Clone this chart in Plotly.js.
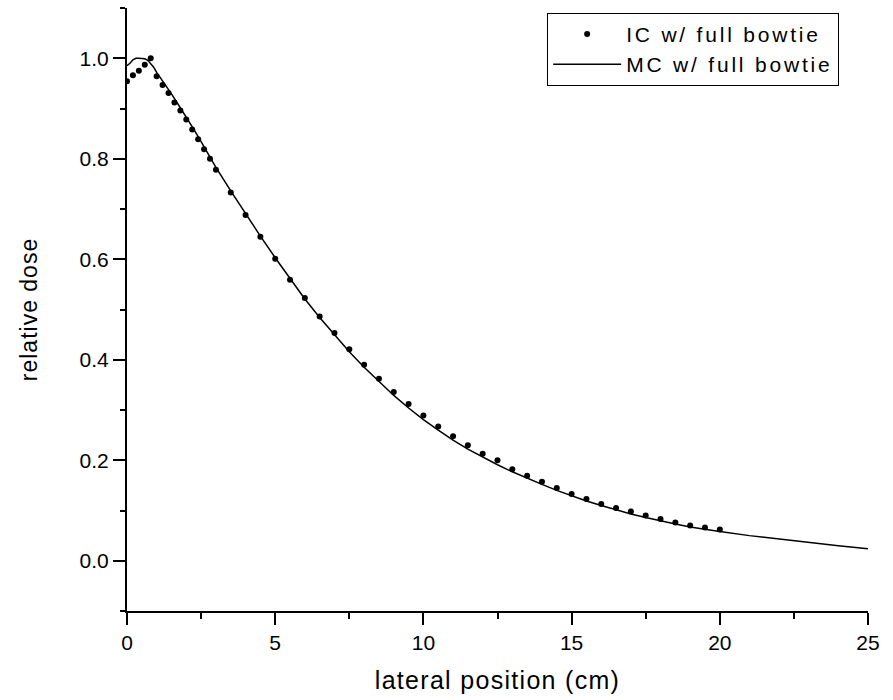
<!DOCTYPE html>
<html>
<head>
<meta charset="utf-8">
<script src="https://cdn.plot.ly/plotly-3.0.1.min.js"></script>
<style>
html,body{margin:0;padding:0;background:#fff;}
#chart{width:893px;height:700px;}
.legendtext{letter-spacing:2.8px;}
.xtitle{letter-spacing:1.3px;}
.ytitle{letter-spacing:1.0px;}
</style>
</head>
<body>
<div id="chart"></div>
<script>
// IC w/ full bowtie (dots)
const icX = [0, 0.2, 0.4, 0.6, 0.8, 1.0, 1.2, 1.4, 1.6, 1.8, 2.0, 2.2, 2.4, 2.6, 2.8,
  3.0, 3.5, 4.0, 4.5, 5.0, 5.5, 6.0, 6.5, 7.0, 7.5, 8.0, 8.5, 9.0, 9.5, 10.0,
  10.5, 11.0, 11.5, 12.0, 12.5, 13.0, 13.5, 14.0, 14.5, 15.0, 15.5, 16.0, 16.5,
  17.0, 17.5, 18.0, 18.5, 19.0, 19.5, 20.0];
const icY = [0.954, 0.966, 0.975, 0.987, 1.0, 0.964, 0.947, 0.931, 0.912, 0.896, 0.878, 0.858, 0.839, 0.819, 0.8,
  0.778, 0.733, 0.688, 0.645, 0.601, 0.559, 0.523, 0.486, 0.453, 0.421, 0.39, 0.362, 0.336, 0.312, 0.289,
  0.267, 0.248, 0.23, 0.213, 0.2, 0.182, 0.169, 0.157, 0.145, 0.133, 0.123, 0.113, 0.105,
  0.098, 0.09, 0.083, 0.076, 0.070, 0.066, 0.062];

// MC w/ full bowtie (line)
const mcX = [0, 0.1, 0.2, 0.3, 0.4, 0.5, 0.6, 0.7, 0.8, 0.9, 1.0, 1.25, 1.5, 1.75, 2.0, 2.25, 2.5, 2.75, 3.0,
  3.5, 4, 4.5, 5, 5.5, 6, 6.5, 7, 7.5, 8, 8.5, 9, 9.5, 10, 10.5, 11, 11.5, 12, 12.5, 13, 13.5, 14, 14.5,
  15, 15.5, 16, 16.5, 17, 17.5, 18, 18.5, 19, 19.5, 20, 21, 22, 23, 24, 25];
const mcY = [0.985, 0.99, 0.997, 1.0, 1.0, 1.0, 0.999, 0.996, 0.99, 0.982, 0.972, 0.951, 0.929, 0.906, 0.883, 0.859, 0.834, 0.808, 0.783,
  0.736, 0.69, 0.646, 0.603, 0.561, 0.521, 0.484, 0.449, 0.416, 0.385, 0.356, 0.329, 0.304, 0.281, 0.26, 0.24, 0.222, 0.206, 0.191, 0.177, 0.164, 0.152, 0.14,
  0.129, 0.119, 0.11, 0.101, 0.093, 0.086, 0.079, 0.073, 0.067, 0.062, 0.058, 0.05, 0.043, 0.036, 0.030, 0.024];

const xTicks = [0, 5, 10, 15, 20, 25];
const yTicks = [0.0, 0.2, 0.4, 0.6, 0.8, 1.0];
const yTickText = ['0.0', '0.2', '0.4', '0.6', '0.8', '1.0'];

const FONT = 'Liberation Sans, Arial, sans-serif';

const traces = [
  {x: icX, y: icY, type: 'scatter', mode: 'markers', name: 'IC w/ full bowtie',
   marker: {color: '#000', size: 6, symbol: 'circle'}},
  {x: mcX, y: mcY, type: 'scatter', mode: 'lines', name: 'MC w/ full bowtie',
   line: {color: '#000', width: 1.5}}
];

const layout = {
  width: 893, height: 700,
  margin: {l: 127, r: 25, t: 8, b: 89},
  paper_bgcolor: '#fff', plot_bgcolor: '#fff',
  font: {family: FONT, color: '#000', size: 21},
  showlegend: true,
  legend: {x: 0.567, y: 0.992, xanchor: 'left', yanchor: 'top',
    bordercolor: '#000', borderwidth: 1, bgcolor: '#fff',
    font: {family: FONT, size: 21, color: '#000'}, tracegroupgap: 0, itemwidth: 68},
  xaxis: {
    range: [0, 25], tickvals: xTicks, ticktext: xTicks.map(String),
    showgrid: false, zeroline: false, showline: true, linecolor: '#000', linewidth: 2,
    ticks: 'outside', ticklen: 12, tickwidth: 2, tickcolor: '#000',
    minor: {dtick: 2.5, tick0: 0, ticks: 'outside', ticklen: 6, tickwidth: 2, tickcolor: '#000', showgrid: false},
    tickfont: {family: FONT, size: 21},
    title: {text: 'lateral position (cm)', font: {family: FONT, size: 25}, standoff: 18}
  },
  yaxis: {
    range: [-0.1, 1.1], tickvals: yTicks, ticktext: yTickText,
    showgrid: false, zeroline: false, showline: true, linecolor: '#000', linewidth: 2,
    ticks: 'outside', ticklen: 12, tickwidth: 2, tickcolor: '#000',
    minor: {dtick: 0.1, tick0: 0, ticks: 'outside', ticklen: 5, tickwidth: 2, tickcolor: '#000', showgrid: false},
    tickfont: {family: FONT, size: 21},
    title: {text: 'relative dose', font: {family: FONT, size: 23}, standoff: 36}
  }
};

Plotly.newPlot('chart', traces, layout, {displayModeBar: false, staticPlot: true});
</script>
</body>
</html>
